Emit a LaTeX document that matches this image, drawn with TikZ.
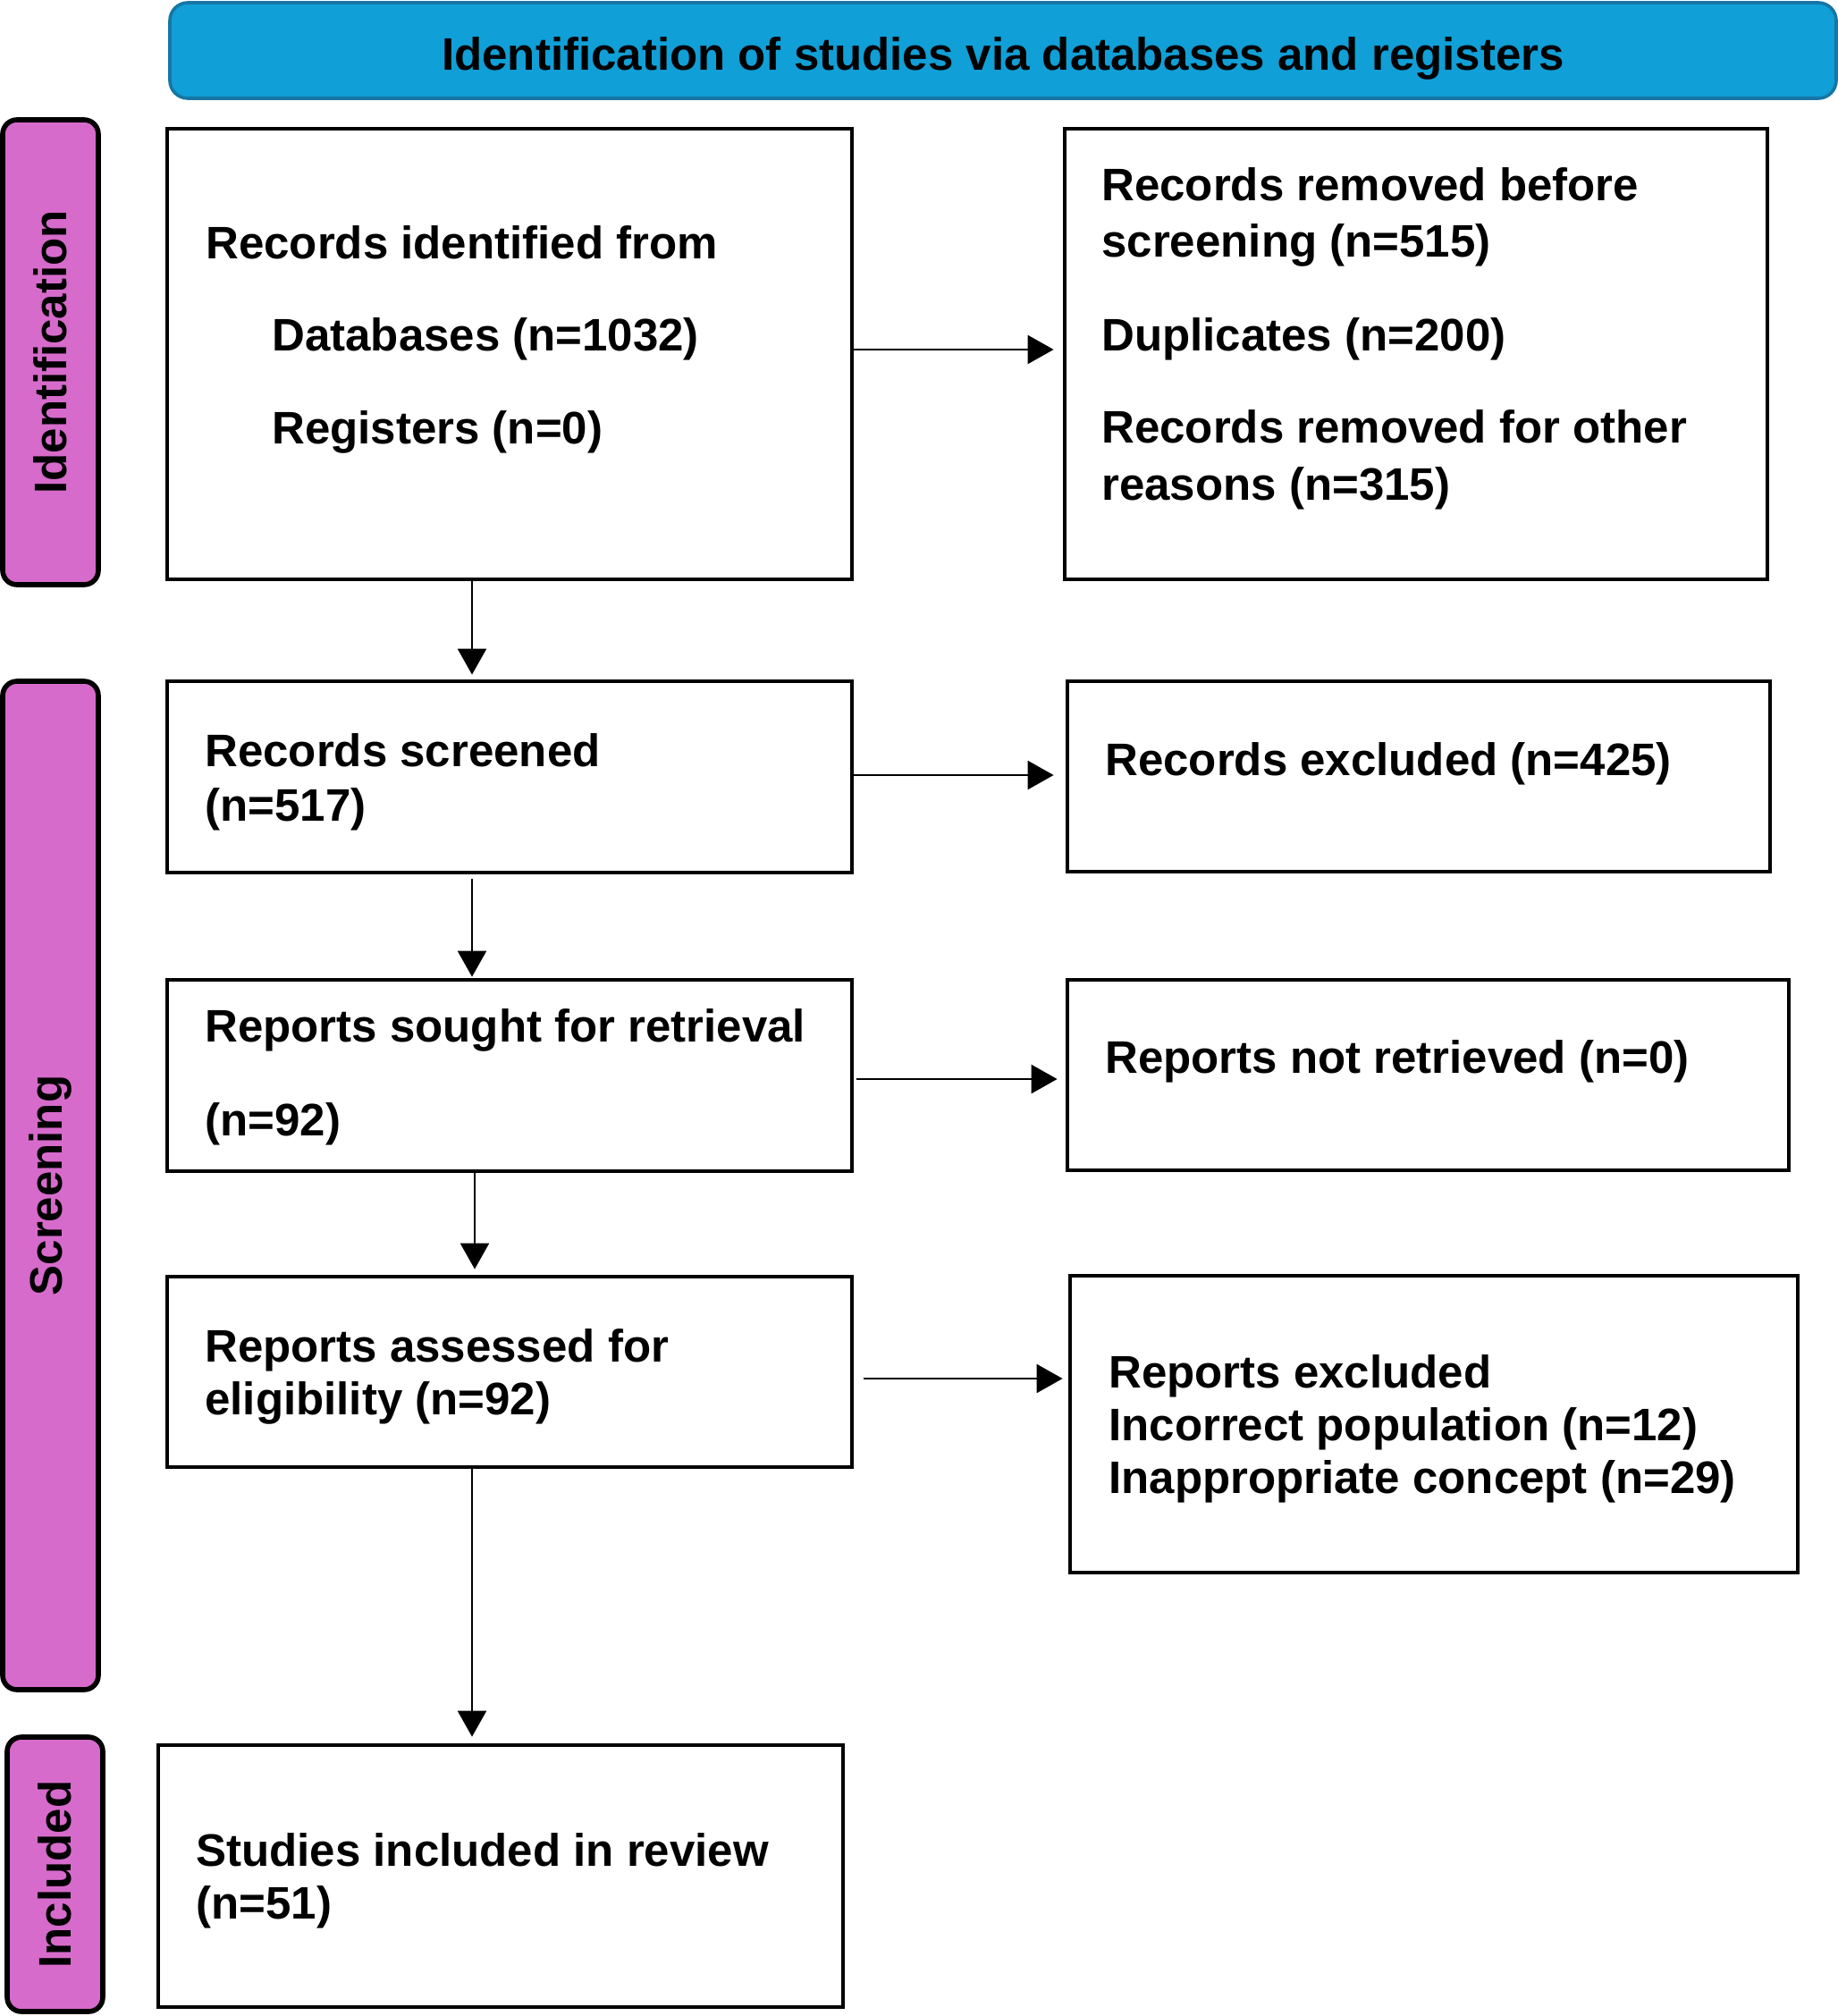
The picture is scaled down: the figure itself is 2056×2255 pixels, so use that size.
\documentclass[tikz,border=0pt]{standalone}
\usepackage{fontspec}
\setmainfont{Liberation Sans}
\usetikzlibrary{arrows.meta,fit,calc}
\definecolor{bannerblue}{RGB}{16,159,214}
\definecolor{bannerline}{RGB}{22,118,165}
\definecolor{phase}{RGB}{214,107,203}
\begin{document}
\begin{tikzpicture}[x=0.5pt,y=-0.5pt,
  box/.style={draw=black, line width=2.4pt, inner sep=0pt, fill=white},
  phasebox/.style={draw=black, fill=phase, line width=2.8pt, rounded corners=8pt, inner sep=0pt},
  banner/.style={draw=bannerline, fill=bannerblue, line width=1.8pt, rounded corners=10pt, inner sep=0pt},
  txt/.style={anchor=base west, inner sep=0pt, font=\fontsize{25.5}{30}\selectfont\bfseries},
  ctxt/.style={anchor=base, inner sep=0pt, font=\fontsize{25.5}{30}\selectfont\bfseries},
  vtxt/.style={rotate=90, inner sep=0pt, font=\fontsize{25.5}{30}\selectfont\bfseries},
  arr/.style={line width=1.2pt, -{Triangle[length=14.5pt,width=16pt]}}]
\useasboundingbox (0,0) rectangle (2056,2255);

% banner
\node[banner, fit={(190,3) (2054,110)}] (ban) {};
\node[ctxt] (bantxt) at (1122,78) {Identification of studies via databases and registers};

% phase labels
\node[phasebox, fit={(3,134) (110,654)}] (s1) {};
\node[vtxt] (s1t) at (s1.center) {Identification};
\node[phasebox, fit={(3,762) (110,1890)}] (s2) {};
\node[vtxt] (s2t) at (s2.center) {Screening};
\node[phasebox, fit={(8,1943) (115,2250)}] (s3) {};
\node[vtxt] (s3t) at (s3.center) {Included};

% boxes
\node[box, fit={(187,144) (953,648)}] (b1) {};
\node[box, fit={(1191,144) (1977,648)}] (b2) {};
\node[box, fit={(187,762) (953,976)}] (b3) {};
\node[box, fit={(1194,762) (1980,975)}] (b4) {};
\node[box, fit={(187,1096) (953,1310)}] (b5) {};
\node[box, fit={(1194,1096) (2001,1309)}] (b6) {};
\node[box, fit={(187,1428) (953,1641)}] (b7) {};
\node[box, fit={(1197,1427) (2011,1759)}] (b8) {};
\node[box, fit={(177,1952) (943,2245)}] (b9) {};

% texts
\node[txt] (t1a) at (230,289) {Records identified from};
\node[txt] (t1b) at (304,392.5) {Databases (n=1032)};
\node[txt] (t1c) at (304,496.5) {Registers (n=0)};

\node[txt] (t2a) at (1232,224) {Records removed before};
\node[txt] (t2b) at (1232,287) {screening (n=515)};
\node[txt] (t2c) at (1232,392.5) {Duplicates (n=200)};
\node[txt] (t2d) at (1232,495.6) {Records removed for other};
\node[txt] (t2e) at (1232,559) {reasons (n=315)};

\node[txt] (t3a) at (229,857) {Records screened};
\node[txt] (t3b) at (229,918) {(n=517)};

\node[txt] (t4a) at (1236,867) {Records excluded (n=425)};

\node[txt] (t5a) at (229,1165) {Reports sought for retrieval};
\node[txt] (t5b) at (229,1270) {(n=92)};

\node[txt] (t6a) at (1236,1200) {Reports not retrieved (n=0)};

\node[txt] (t7a) at (229,1523) {Reports assessed for};
\node[txt] (t7b) at (229,1582) {eligibility (n=92)};

\node[txt] (t8a) at (1240,1552) {Reports excluded};
\node[txt] (t8b) at (1240,1611) {Incorrect population (n=12)};
\node[txt] (t8c) at (1240,1670.5) {Inappropriate concept (n=29)};

\node[txt] (t9a) at (219,2087) {Studies included in review};
\node[txt] (t9b) at (219,2146) {(n=51)};

% horizontal connectors
\coordinate (a1) at ($(b1.east)+(0,-5)$);
\coordinate (a3) at ($(b3.east)+(0,-2)$);
\coordinate (a5) at ($(b5.east)+(3,4)$);
\coordinate (a7) at ($(b7.east)+(11,7.5)$);
\draw[arr, shorten >=5pt] (a1) -- (a1 -| b2.west);
\draw[arr, shorten >=6.5pt] (a3) -- (a3 -| b4.west);
\draw[arr, shorten >=4.5pt] (a5) -- (a5 -| b6.west);
\draw[arr, shorten >=3pt] (a7) -- (a7 -| b8.west);

% vertical connectors
\coordinate (cx) at (528,0);
\coordinate (cy) at (531,0);
\draw[arr, shorten >=2.5pt] (b1.south -| cx) -- (b3.north -| cx);
\draw[arr, shorten <=2.5pt, shorten >=0.5pt] (b3.south -| cx) -- (b5.north -| cx);
\draw[arr, shorten >=3pt] (b5.south -| cy) -- (b7.north -| cy);
\draw[arr, shorten >=3.5pt] (b7.south -| cx) -- (b9.north -| cx);
\end{tikzpicture}
\end{document}
